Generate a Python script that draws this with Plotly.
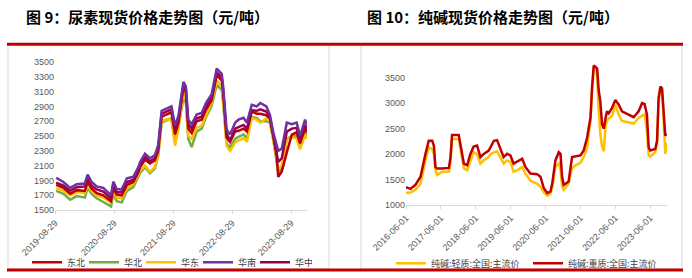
import plotly.graph_objects as go

W, H = 692, 278

# ---------------- Urea data (元/吨) ----------------
urea_dates = ["2019-09-05","2019-10-20","2019-12-01","2020-01-10","2020-03-01","2020-03-18","2020-04-12","2020-05-13",
              "2020-06-23","2020-07-23","2020-08-10","2020-08-24","2020-09-14","2020-10-15","2020-11-16","2020-12-26","2021-01-26",
              "2021-02-06","2021-03-08","2021-04-08","2021-05-08","2021-05-29","2021-06-19","2021-07-29","2021-08-19","2021-09-10",
              "2021-10-01","2021-11-01","2021-11-16","2021-12-01","2021-12-22","2022-01-22","2022-02-22","2022-03-22","2022-04-24",
              "2022-05-26","2022-06-26",
              "2022-07-05","2022-07-26","2022-08-17","2022-09-17","2022-10-08","2022-11-08","2022-11-29","2022-12-29","2023-01-29",
              "2023-02-20","2023-03-29","2023-04-20","2023-05-11","2023-06-01","2023-06-11","2023-07-03","2023-08-03","2023-09-03",
              "2023-10-03","2023-10-24","2023-11-24","2023-12-05"]
urea_dongbei = [1840,1800,1720,1770,1760,1880,1790,1730,1700,1650,1620,1800,1710,1700,1840,1880,2010,
                2080,2180,2130,2170,2300,2760,2800,2820,2520,2680,3160,3090,2600,2540,2700,2720,2860,2980,3320,3250,
                3080,2480,2420,2560,2570,2600,2560,2830,2800,2800,2780,2740,2500,2240,1950,2020,2280,2520,2550,2400,2600,2550]
urea_huabei = [1760,1720,1640,1690,1670,1800,1720,1660,1610,1570,1550,1720,1620,1605,1760,1810,1940,
               2000,2080,2000,2060,2230,2680,2720,2740,2430,2620,3010,2950,2460,2350,2560,2600,2760,2900,3190,3120,
               2950,2400,2350,2460,2490,2520,2470,2760,2740,2700,2700,2680,2450,2150,2010,2060,2460,2500,2500,2360,2560,2500]
urea_huadong = [1795,1760,1700,1740,1730,1840,1760,1700,1670,1620,1600,1760,1670,1660,1800,1850,1970,
                2030,2100,2020,2080,2250,2700,2730,2700,2370,2600,3100,3000,2500,2460,2610,2640,2790,2950,3250,3170,
                2980,2370,2300,2410,2440,2470,2420,2745,2720,2680,2740,2700,2460,2200,2060,2100,2450,2490,2460,2320,2520,2460]
urea_huanan = [1937,1880,1800,1850,1860,1980,1880,1820,1800,1740,1700,1885,1785,1780,1930,1950,2080,
               2150,2260,2200,2240,2380,2840,2880,2900,2640,2770,3230,3170,2720,2660,2790,2810,2950,3060,3410,3340,
               3170,2590,2520,2680,2720,2745,2680,2920,2900,2945,2900,2790,2550,2390,2300,2330,2680,2660,2680,2500,2720,2650]
urea_huazhong = [1870,1830,1760,1810,1820,1930,1830,1780,1750,1690,1660,1850,1740,1740,1880,1910,2040,
                 2110,2220,2160,2200,2340,2800,2840,2860,2580,2720,3190,3130,2660,2600,2740,2760,2900,3010,3360,3290,
                 3120,2530,2440,2600,2620,2650,2600,2850,2840,2860,2830,2760,2520,2300,2150,2200,2560,2600,2610,2440,2650,2590]
urea_names = ["东北", "华北", "华东", "华南", "华中"]
urea_ticks = ["2019-08-29", "2020-08-29", "2021-08-29", "2022-08-29", "2023-08-29"]
urea_yticks = [1500, 1700, 1900, 2100, 2300, 2500, 2700, 2900, 3100, 3300, 3500]

# ---------------- Soda ash data (元/吨) ----------------
soda_dates = ["2016-06-01","2016-07-18","2016-09-08","2016-10-31","2016-12-22",
              "2017-01-25","2017-03-02","2017-03-20","2017-04-05","2017-04-22","2017-06-15","2017-08-24","2017-09-10","2017-09-26","2017-12-05","2017-12-22",
              "2018-01-28","2018-03-03","2018-04-06","2018-05-10","2018-06-15","2018-07-20","2018-08-24","2018-10-15","2018-11-01","2018-12-08",
              "2019-01-10","2019-02-15","2019-03-20","2019-04-25","2019-05-30","2019-07-02","2019-08-25","2019-09-30","2019-11-03","2019-12-25",
              "2020-03-05","2020-04-08","2020-05-14","2020-06-18","2020-07-22","2020-08-10","2020-09-12","2020-10-17","2020-11-04","2020-11-21","2020-12-08",
              "2021-01-28","2021-03-05","2021-04-10","2021-06-01","2021-07-05","2021-07-22","2021-08-10","2021-08-27","2021-09-14","2021-09-30","2021-10-18","2021-11-12","2021-11-23","2021-12-09","2021-12-26",
              "2022-01-13","2022-02-01","2022-02-19","2022-03-06","2022-03-24","2022-04-28","2022-06-01","2022-07-07","2022-08-09","2022-10-17","2022-12-10",
              "2023-01-31","2023-03-08","2023-04-03","2023-04-28","2023-05-16","2023-06-01","2023-07-24","2023-08-12","2023-08-28","2023-09-16","2023-10-03","2023-10-20","2023-11-06","2023-11-16"]
soda_light = [1237,1250,1301,1420,1878,
              2135,2100,2000,1686,1590,1654,1660,1850,2295,2295,2100,
              1720,1686,1880,2038,2000,1815,1880,1943,2006,2040,
              2058,1940,1815,1878,1850,1654,1700,1750,1622,1481,
              1420,1365,1250,1186,1224,1350,1750,1815,1700,1365,1301,
              1430,1718,1783,1830,1942,2040,2135,2400,2647,3200,3673,3650,3500,2840,2400,
              2150,2058,2550,2647,2700,2750,2968,2775,2650,2615,2600,
              2710,2743,2780,2455,1975,1950,2038,2200,3000,3321,3256,2650,2006,2231]
soda_heavy = [1352,1321,1400,1558,2006,
              2263,2263,2167,1750,1718,1718,1730,1942,2378,2378,2199,
              1814,1782,2006,2148,2167,1942,2006,2071,2135,2263,
              2275,2102,1942,2006,1975,1814,1878,1910,1750,1622,
              1609,1558,1333,1237,1269,1429,1878,2038,2006,1558,1397,
              1462,1943,1955,1975,2071,2199,2327,2519,2711,3300,3737,3700,3673,3256,3032,
              2583,2500,2711,2840,2800,2904,3064,2968,2840,2775,2724,
              2840,3000,2983,2775,2135,2071,2100,2263,3096,3321,3288,2904,2359,2404]
soda_names = ["纯碱:轻质:全国:主流价", "纯碱:重质:全国:主流价"]
soda_ticks = ["2016-06-01", "2017-06-01", "2018-06-01", "2019-06-01", "2020-06-01", "2021-06-01", "2022-06-01", "2023-06-01"]
soda_yticks = [1000, 1500, 2000, 2500, 3000, 3500]

urea_colors = ["#C00000", "#70AD47", "#FFC000", "#7030A0", "#99004C"]
soda_colors = ["#FFC000", "#C00000"]


def px_x(p):
    return p / W


def px_y(p):
    return 1 - p / H


fig = go.Figure()

urea_series = [urea_dongbei, urea_huabei, urea_huadong, urea_huanan, urea_huazhong]
# draw order: 华南 (top line) painted last; legend order kept via legendrank
draw_order = [1, 2, 0, 4, 3]
for i in draw_order:
    fig.add_trace(go.Scatter(x=urea_dates, y=urea_series[i], name=urea_names[i], mode="lines",
                             line=dict(color=urea_colors[i], width=2.5), xaxis="x", yaxis="y",
                             legend="legend", legendrank=100 + i))

for j, (name, vals, col) in enumerate(zip(soda_names, [soda_light, soda_heavy], soda_colors)):
    fig.add_trace(go.Scatter(x=soda_dates, y=vals, name=name, mode="lines",
                             line=dict(color=col, width=2.5), xaxis="x2", yaxis="y2",
                             legend="legend2", legendrank=200 + j))

tick_font = dict(family="Liberation Sans, Arial, sans-serif", size=9, color="#595959")
axis_common = dict(showgrid=False, zeroline=False, tickfont=tick_font, automargin=False)
legend_font = dict(family="Noto Sans CJK SC", size=9, color="#404040")

fig.update_layout(
    width=W, height=H, autosize=False,
    margin=dict(l=0, r=0, t=0, b=0),
    paper_bgcolor="white", plot_bgcolor="white",
    xaxis=dict(domain=[px_x(55), px_x(307)], range=["2019-08-29", "2023-12-06"], type="date",
               tickvals=urea_ticks, ticktext=urea_ticks, tickangle=-45,
               showline=True, linecolor="#D9D9D9", linewidth=1, ticks="outside", ticklen=3,
               tickcolor="#D9D9D9", anchor="y", **axis_common),
    yaxis=dict(domain=[px_y(214), px_y(63)], range=[1500, 3500], tickvals=urea_yticks,
               showline=False, anchor="x", ticks="", **axis_common),
    xaxis2=dict(domain=[px_x(406), px_x(667)], range=["2016-06-01", "2023-11-24"], type="date",
                tickvals=soda_ticks, ticktext=soda_ticks, tickangle=-45,
                showline=True, linecolor="#D9D9D9", linewidth=1, ticks="outside", ticklen=3,
                tickcolor="#D9D9D9", anchor="y2", **axis_common),
    yaxis2=dict(domain=[px_y(209), px_y(53)], range=[1000, 4000], tickvals=soda_yticks,
                showline=False, anchor="x2", ticks="", **axis_common),
    legend=dict(orientation="h", x=px_x(27), y=px_y(267), xanchor="left", yanchor="middle",
                font=legend_font, entrywidth=12, entrywidthmode="pixels", itemwidth=30,
                bgcolor="rgba(0,0,0,0)", tracegroupgap=0, traceorder="normal"),
    legend2=dict(orientation="h", x=px_x(391), y=px_y(268), xanchor="left", yanchor="middle",
                 font=legend_font, entrywidth=92, entrywidthmode="pixels", itemwidth=30,
                 bgcolor="rgba(0,0,0,0)", tracegroupgap=0, traceorder="normal"),
    showlegend=True,
)

# titles
fig.add_annotation(text="<b>图 9：尿素现货价格走势图（元/吨）</b>", x=px_x(24), y=px_y(17),
                   xref="paper", yref="paper", xanchor="left", yanchor="middle", showarrow=False,
                   font=dict(family="Noto Sans CJK SC", size=15, color="#000000"))
fig.add_annotation(text="<b>图 10：纯碱现货价格走势图（元/吨）</b>", x=px_x(365), y=px_y(17),
                   xref="paper", yref="paper", xanchor="left", yanchor="middle", showarrow=False,
                   font=dict(family="Noto Sans CJK SC", size=15, color="#000000"))

# frames
shapes = [
    dict(type="rect", x0=px_x(8), x1=px_x(329), y0=px_y(274), y1=px_y(45),
         line=dict(color="#D9D9D9", width=1)),
    dict(type="rect", x0=px_x(361), x1=px_x(682), y0=px_y(274), y1=px_y(45),
         line=dict(color="#D9D9D9", width=1)),
    dict(type="line", x0=px_x(7), x1=px_x(683), y0=px_y(45), y1=px_y(45),
         line=dict(color="#C00000", width=3)),
    dict(type="line", x0=px_x(7), x1=px_x(683), y0=px_y(275), y1=px_y(275),
         line=dict(color="#C00000", width=3)),
]
for s in shapes:
    s.update(xref="paper", yref="paper", layer="above")
fig.update_layout(shapes=shapes)

fig.write_html("out.html")
